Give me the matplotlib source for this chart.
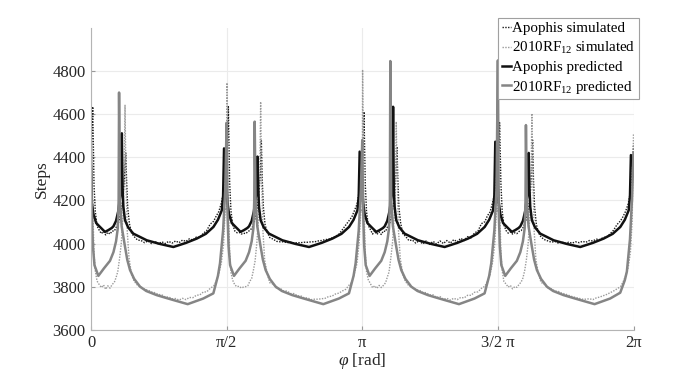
import numpy as np
import matplotlib
matplotlib.use("Agg")
import matplotlib.pyplot as plt

plt.rcParams["font.family"] = ["Liberation Serif", "DejaVu Serif"]
plt.rcParams["mathtext.fontset"] = "custom"
plt.rcParams["mathtext.rm"] = "Liberation Serif"
plt.rcParams["mathtext.it"] = "Liberation Serif:italic"

# phase inside each quarter period (rad) and values read per quarter (0, pi/2, pi, 3pi/2)
# Apophis predicted
bp_u = [0.000, 0.010, 0.027, 0.060, 0.104, 0.162, 0.200, 0.240, 0.260, 0.290,
        0.316, 0.340, 0.350, 0.357, 0.365, 0.375, 0.394, 0.430, 0.490, 0.646,
        0.800, 0.954, 1.100, 1.225, 1.330, 1.418, 1.470, 1.515, 1.530, 1.541]
bp_rows = [
    [4357, 4190, 4138, 4095, 4077, 4054, 4062, 4072, 4080, 4105, 4150, 4220, 4300, 4511, 4260,
     4170, 4108, 4075, 4046, 4015, 3998, 3984, 4003, 4023, 4045, 4077, 4110, 4154, 4220, 4441],
    [4250, 4190, 4138, 4095, 4077, 4054, 4062, 4072, 4080, 4105, 4150, 4220, 4300, 4403, 4260,
     4170, 4108, 4075, 4046, 4015, 3998, 3984, 4003, 4023, 4045, 4077, 4110, 4154, 4220, 4426],
    [4250, 4190, 4138, 4095, 4077, 4054, 4062, 4072, 4080, 4105, 4150, 4220, 4300, 4634, 4260,
     4170, 4108, 4075, 4046, 4015, 3998, 3984, 4003, 4023, 4045, 4077, 4110, 4154, 4220, 4472],
    [4250, 4190, 4138, 4095, 4077, 4054, 4062, 4072, 4080, 4105, 4150, 4220, 4300, 4420, 4260,
     4170, 4108, 4075, 4046, 4015, 3998, 3984, 4003, 4023, 4045, 4077, 4110, 4154, 4220, 4410],
]
bp_end = 4350

# 2010RF12 predicted
gp_u = [0.000, 0.010, 0.022, 0.040, 0.085, 0.150, 0.220, 0.260, 0.290, 0.310,
        0.320, 0.325, 0.335, 0.355, 0.394, 0.420, 0.452, 0.500, 0.568, 0.640,
        0.760, 0.860, 0.954, 1.120, 1.300, 1.417, 1.470, 1.494, 1.530, 1.555]
gp_rows = [
    [4465, 4150, 3990, 3900, 3850, 3885, 3920, 3960, 4010, 4070, 4200, 4700, 4200, 4080, 3985,
     3925, 3877, 3836, 3800, 3780, 3761, 3749, 3738, 3719, 3745, 3769, 3850, 3908, 4061, 4250],
    [4560, 4150, 3990, 3900, 3850, 3885, 3920, 3960, 4010, 4070, 4200, 4565, 4200, 4080, 3985,
     3925, 3877, 3836, 3800, 3780, 3761, 3749, 3738, 3719, 3745, 3769, 3850, 3908, 4061, 4250],
    [4480, 4150, 3990, 3900, 3850, 3885, 3920, 3960, 4010, 4070, 4200, 4846, 4200, 4080, 3985,
     3925, 3877, 3836, 3800, 3780, 3761, 3749, 3738, 3719, 3745, 3769, 3850, 3908, 4061, 4250],
    [4849, 4150, 3990, 3900, 3850, 3885, 3920, 3960, 4010, 4070, 4200, 4549, 4200, 4080, 3985,
     3925, 3877, 3836, 3800, 3780, 3761, 3749, 3738, 3719, 3745, 3772, 3830, 3870, 4020, 4220],
]
gp_end = 4420

# Apophis simulated
bs_u = [0.000, 0.020, 0.035, 0.050, 0.070, 0.095, 0.120, 0.145, 0.170, 0.195,
        0.220, 0.245, 0.270, 0.295, 0.320, 0.345, 0.370, 0.390, 0.402, 0.412,
        0.425, 0.445, 0.470, 0.500, 0.540, 0.580, 0.620, 0.660, 0.700, 0.740,
        0.780, 0.820, 0.860, 0.900, 0.940, 0.980, 1.020, 1.060, 1.100, 1.140,
        1.180, 1.220, 1.260, 1.300, 1.340, 1.380, 1.420, 1.450, 1.480, 1.510,
        1.535, 1.555]
bs_rows = [
    [4380, 4634, 4270, 4148, 4082, 4062, 4046, 4056, 4040, 4052, 4044, 4058, 4058, 4078, 4098,
     4142, 4208, 4318, 4420, 4295, 4168, 4092, 4048, 4032, 4016, 4014, 4004, 4012, 4000, 4010,
     3998, 4008, 4000, 4010, 4002, 4012, 4004, 4016, 4010, 4022, 4016, 4030, 4028, 4047, 4060,
     4090, 4103, 4127, 4148, 4188, 4238, 4332],
    [4300, 4634, 4285, 4152, 4088, 4058, 4050, 4052, 4044, 4048, 4046, 4054, 4062, 4072, 4102,
     4138, 4212, 4322, 4480, 4302, 4172, 4088, 4052, 4028, 4020, 4010, 4008, 4008, 4004, 4006,
     4002, 4004, 4004, 4006, 4006, 4008, 4008, 4012, 4014, 4018, 4020, 4026, 4032, 4043, 4064,
     4086, 4107, 4123, 4152, 4182, 4242, 4328],
    [4300, 4611, 4275, 4146, 4084, 4064, 4044, 4058, 4042, 4054, 4042, 4058, 4056, 4080, 4096,
     4144, 4206, 4316, 4450, 4298, 4166, 4094, 4046, 4034, 4014, 4016, 4002, 4014, 3998, 4012,
     3996, 4010, 3998, 4012, 4000, 4014, 4002, 4018, 4008, 4024, 4014, 4032, 4026, 4049, 4058,
     4092, 4101, 4129, 4146, 4190, 4236, 4334],
    [4300, 4560, 4280, 4150, 4086, 4060, 4048, 4054, 4044, 4050, 4046, 4056, 4060, 4076, 4100,
     4140, 4210, 4320, 4480, 4300, 4170, 4090, 4050, 4030, 4018, 4012, 4006, 4010, 4002, 4008,
     4000, 4006, 4002, 4008, 4004, 4010, 4006, 4014, 4012, 4020, 4018, 4028, 4030, 4045, 4062,
     4088, 4105, 4125, 4150, 4185, 4240, 4330],
]
bs_end = 4457

# 2010RF12 simulated
gs_u = [0.000, 0.004, 0.020, 0.035, 0.050, 0.070, 0.095, 0.120, 0.145, 0.170,
        0.195, 0.220, 0.245, 0.270, 0.290, 0.310, 0.330, 0.350, 0.370, 0.385,
        0.394, 0.405, 0.420, 0.440, 0.470, 0.500, 0.540, 0.580, 0.620, 0.660,
        0.700, 0.740, 0.780, 0.820, 0.860, 0.900, 0.940, 0.980, 1.020, 1.060,
        1.100, 1.140, 1.180, 1.220, 1.260, 1.300, 1.340, 1.380, 1.420, 1.450,
        1.480, 1.510, 1.535, 1.555]
gs_rows = [
    [4200, 4450, 4180, 3955, 3872, 3826, 3810, 3796, 3808, 3788, 3804, 3793, 3810, 3820, 3842,
     3870, 3928, 3998, 4125, 4330, 4641, 4300, 4055, 3935, 3855, 3825, 3806, 3798, 3788, 3784,
     3776, 3772, 3764, 3762, 3752, 3752, 3744, 3745, 3738, 3746, 3740, 3750, 3749, 3760, 3762,
     3775, 3776, 3792, 3803, 3824, 3858, 3912, 3995, 4165],
    [4160, 4745, 4190, 3962, 3866, 3830, 3808, 3800, 3802, 3794, 3798, 3800, 3804, 3826, 3838,
     3876, 3920, 4004, 4118, 4335, 4657, 4310, 4062, 3926, 3860, 3818, 3812, 3792, 3792, 3780,
     3780, 3768, 3768, 3758, 3757, 3748, 3748, 3740, 3742, 3742, 3744, 3746, 3754, 3756, 3766,
     3770, 3780, 3788, 3808, 3820, 3862, 3908, 4005, 4155],
    [4150, 4806, 4175, 3958, 3868, 3832, 3814, 3795, 3804, 3792, 3806, 3796, 3806, 3818, 3844,
     3868, 3930, 4002, 4122, 4320, 4565, 4290, 4058, 3932, 3856, 3824, 3804, 3797, 3786, 3784,
     3774, 3772, 3762, 3762, 3750, 3754, 3742, 3746, 3738, 3746, 3740, 3750, 3748, 3760, 3760,
     3774, 3776, 3792, 3802, 3826, 3856, 3914, 3998, 4162],
    [4150, 4580, 4185, 3960, 3874, 3824, 3812, 3798, 3806, 3790, 3800, 3797, 3810, 3822, 3840,
     3874, 3924, 3996, 4120, 4328, 4603, 4305, 4060, 3928, 3858, 3820, 3810, 3794, 3790, 3780,
     3778, 3770, 3766, 3760, 3754, 3750, 3746, 3742, 3742, 3744, 3740, 3748, 3752, 3758, 3764,
     3772, 3780, 3790, 3800, 3822, 3850, 3890, 3960, 4100],
]
gs_end = 4511

xtick_pos = [0, np.pi / 2, np.pi, 3 * np.pi / 2, 2 * np.pi]
xtick_labels = ["0", "π/2", "π", "3/2 π", "2π"]
ytick_pos = [3600, 3800, 4000, 4200, 4400, 4600, 4800]


def build(u, rows, end):
    xs = [k * np.pi / 2 + np.array(u) for k in range(len(rows))]
    x = np.concatenate(xs + [[2 * np.pi]])
    y = np.concatenate([np.array(r, float) for r in rows] + [[end]])
    return x, y


fig = plt.figure(figsize=(7, 3.71), dpi=100)
ax = fig.add_axes([0.13, 0.111, 0.775, 0.814])

x, y = build(bs_u, bs_rows, bs_end)
ax.plot(x, y, color="#1a1a1a", lw=1.0, ls=(0, (1, 1)), label="Apophis simulated")
x, y = build(gs_u, gs_rows, gs_end)
ax.plot(x, y, color="#9a9a9a", lw=1.0, ls=(0, (1, 1)), label="2010RF$_{12}$ simulated")
x, y = build(bp_u, bp_rows, bp_end)
ax.plot(x, y, color="#111111", lw=1.8, label="Apophis predicted")
x, y = build(gp_u, gp_rows, gp_end)
ax.plot(x, y, color="#858585", lw=1.8, label="2010RF$_{12}$ predicted")

ax.set_xlim(0, 2 * np.pi)
ax.set_ylim(3600, 5000)
ax.set_xticks(xtick_pos)
ax.set_xticklabels(xtick_labels)
ax.set_yticks(ytick_pos)
ax.grid(color="#ebebeb", lw=0.8)
ax.set_axisbelow(True)
for s in ["top", "right"]:
    ax.spines[s].set_visible(False)
for s in ["left", "bottom"]:
    ax.spines[s].set_color("#b4b4b4")
ax.tick_params(direction="in", length=3, color="#999999", labelsize=12,
               labelcolor="#262626", pad=4)
ax.set_xlabel("$\\varphi$ [rad]", fontsize=12.5, color="#262626", labelpad=0)
ax.set_ylabel("Steps", fontsize=12.5, color="#262626", labelpad=2)

leg = ax.legend(loc="upper right", bbox_to_anchor=(0.913, 0.951),
                bbox_transform=fig.transFigure, fontsize=10.8,
                handlelength=0.6, handletextpad=0.1, borderpad=0.25,
                labelspacing=0.3, borderaxespad=0, fancybox=False, framealpha=1)
leg.get_frame().set_edgecolor("#a0a0a0")
leg.get_frame().set_linewidth(0.8)

fig.savefig("out.png", dpi=100)
